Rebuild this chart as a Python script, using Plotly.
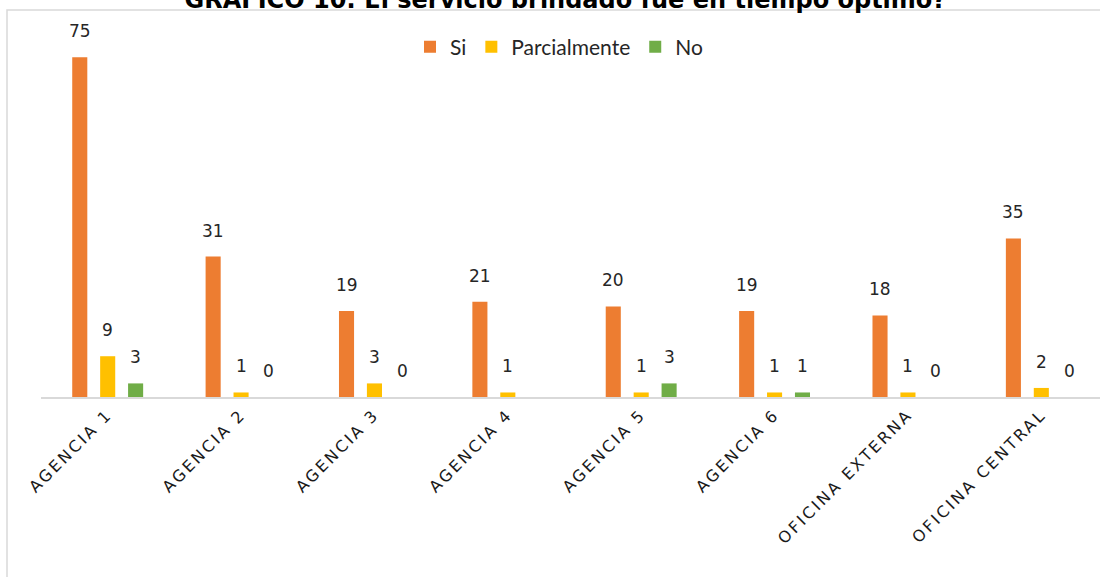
import plotly.graph_objects as go

# Survey responses per office: was the service delivered in optimal time?
oficinas = ["AGENCIA 1", "AGENCIA 2", "AGENCIA 3", "AGENCIA 4",
            "AGENCIA 5", "AGENCIA 6", "OFICINA EXTERNA", "OFICINA CENTRAL"]
si = [75, 31, 19, 21, 20, 19, 18, 35]
parcialmente = [9, 1, 3, 1, 1, 1, 1, 2]
no = [3, 0, 0, None, 3, 1, 0, 0]

series = [("Si", si, "#ED7D31"),
          ("Parcialmente", parcialmente, "#FFC000"),
          ("No", no, "#70AD47")]

W, H = 1100, 577
L, R, T, B = 41, 0, 30, 180
pw, ph = W - L - R, H - T - B
X_RANGE = [-0.5, 7.44]
BARGAP, GROUPGAP = 0.372, 0.46

def px_x(p):
    return (p - L) / pw

def px_y(p):
    return (H - B - p) / ph

# pixel width of one category and of one bar slot inside a group
cat_px = pw / (X_RANGE[1] - X_RANGE[0])
slot_px = cat_px * (1 - BARGAP) / len(series)

fig = go.Figure()
annotations = []
for i, (nombre, valores, color) in enumerate(series):
    fig.add_trace(go.Bar(
        name=nombre, x=oficinas, y=valores,
        marker=dict(color=color, line=dict(width=0)),
        cliponaxis=False,
    ))
    # value labels sit above each bar of this series
    dx = (i - (len(series) - 1) / 2) * slot_px
    for cat, v in zip(oficinas, valores):
        if v is None:
            continue
        annotations.append(dict(
            x=cat, y=v, xref="x", yref="y", text=str(v), showarrow=False,
            xanchor="center", yanchor="middle", xshift=dx, yshift=26,
            font=dict(family="DejaVu Sans", size=17, color="#262626"),
        ))

# spaced-out capitals for the category labels
etiquetas = [f'<span style="letter-spacing:2.5px">{c}</span>' for c in oficinas]

fig.update_layout(
    width=W, height=H,
    margin=dict(l=L, r=R, t=T, b=B),
    paper_bgcolor="white", plot_bgcolor="white",
    barmode="group", bargap=BARGAP, bargroupgap=GROUPGAP,
    title=dict(
        text="<b>GRAFICO 10: El servicio brindado fue en tiempo óptimo?</b>",
        x=0.514, xanchor="center", xref="container",
        y=1.0, yanchor="middle", yref="container",
        font=dict(family="DejaVu Sans", size=24, color="#000000"),
    ),
    legend=dict(
        orientation="h", x=px_x(559), xanchor="center",
        y=px_y(47), yanchor="middle",
        font=dict(family="Lato", size=21, color="#262626"),
        bgcolor="rgba(0,0,0,0)", itemwidth=30, traceorder="normal",
    ),
    xaxis=dict(
        range=X_RANGE, showgrid=False, showline=True,
        linecolor="#d9d9d9", linewidth=2, ticks="", tickangle=-45,
        tickmode="array", tickvals=oficinas, ticktext=etiquetas,
        tickfont=dict(family="DejaVu Sans", size=16, color="#1a1a1a"),
        fixedrange=True,
    ),
    yaxis=dict(range=[0, 81], visible=False, showgrid=False, fixedrange=True),
    annotations=annotations,
    shapes=[dict(
        type="rect", xref="paper", yref="paper",
        x0=px_x(7), x1=px_x(1110), y0=px_y(590), y1=px_y(10),
        line=dict(color="#d9d9d9", width=1.5), fillcolor="rgba(0,0,0,0)",
        layer="below",
    )],
    showlegend=True,
)

fig.write_html("out.html")
